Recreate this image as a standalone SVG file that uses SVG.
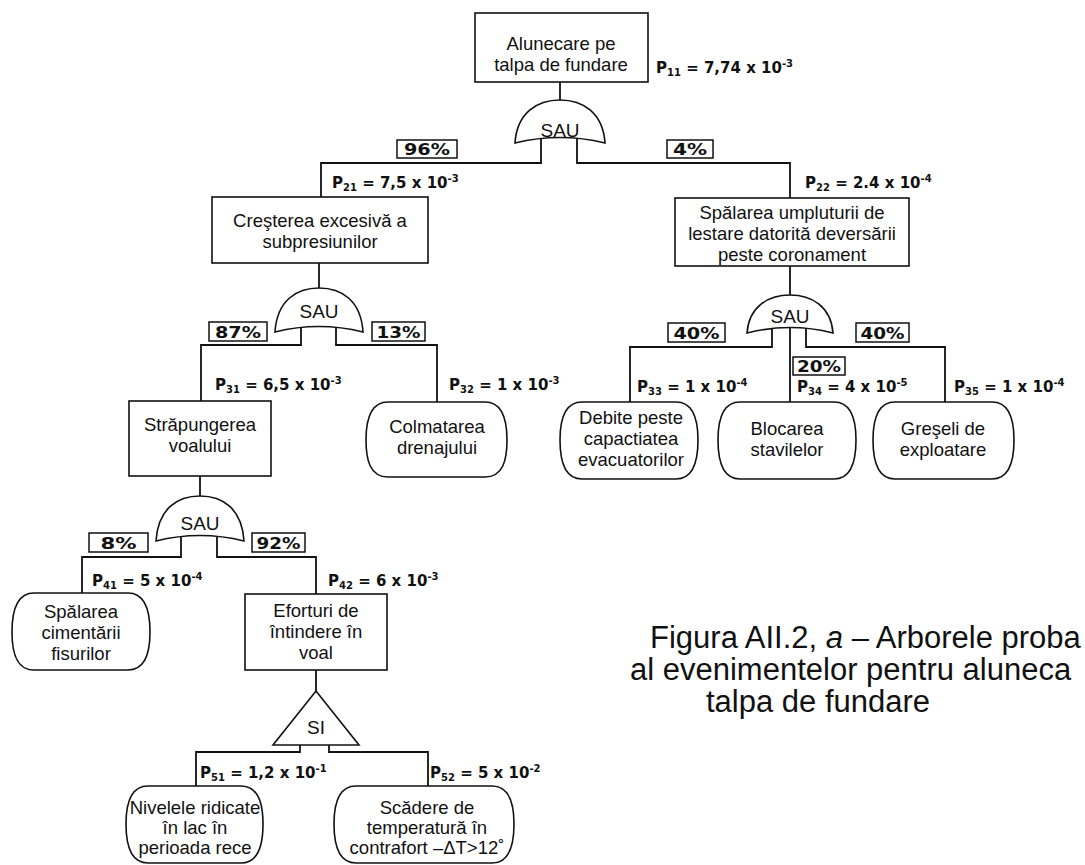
<svg xmlns="http://www.w3.org/2000/svg" width="1085" height="865" viewBox="0 0 1085 865">
  <style>
    .bx { fill: #fff; stroke: #111; stroke-width: 1.6; }
    .gate { fill: #fff; stroke: #111; stroke-width: 1.6; }
    .wire { fill: none; stroke: #111; stroke-width: 1.8; }
    .t { font-family: "Liberation Sans", Arial, sans-serif; font-size: 18.5px; fill: #111; text-anchor: middle; }
    .g { font-family: "Liberation Sans", Arial, sans-serif; font-size: 19px; fill: #111; text-anchor: middle; }
    .p { font-family: "DejaVu Sans", sans-serif; font-weight: bold; font-size: 15px; fill: #111; }
    .sb { font-size: 10px; }
    .sp { font-size: 10px; }
    .pc { font-family: "DejaVu Sans", sans-serif; font-weight: bold; font-size: 16px; fill: #111; text-anchor: middle; }
    .pb { fill: #fff; stroke: #111; stroke-width: 1.5; }
    .cap { font-family: "Liberation Sans", Arial, sans-serif; font-size: 31px; fill: #111; }
  </style>

  <rect width="1085" height="865" fill="#fff"/>

  <!-- connectors -->
  <g id="connectors">
    <path class="wire" d="M560,82 V101"/>
    <path class="wire" d="M541,136 V163 H321 V197"/>
    <path class="wire" d="M577,136 V163 H790 V198"/>

    <path class="wire" d="M319,263 V289"/>
    <path class="wire" d="M301,325 V345 H201 V401"/>
    <path class="wire" d="M336,325 V345 H437 V402"/>

    <path class="wire" d="M790,266 V296"/>
    <path class="wire" d="M772,328 V347 H630 V402"/>
    <path class="wire" d="M790,328 V402"/>
    <path class="wire" d="M806,328 V347 H945 V402"/>

    <path class="wire" d="M200,476 V496"/>
    <path class="wire" d="M181,534 V557 H82 V593"/>
    <path class="wire" d="M217,534 V557 H316 V594"/>

    <path class="wire" d="M316,670 V691"/>
    <path class="wire" d="M300,745 V752 H196 V786"/>
    <path class="wire" d="M329,745 V752 H428 V786"/>
  </g>

  <!-- top event -->
  <g id="n11">
    <rect class="bx" x="475" y="13" width="173" height="69"/>
    <text class="t" x="561" y="50">Alunecare pe</text>
    <text class="t" x="561" y="71">talpa de fundare</text>
  </g>

  <g id="or1">
    <path class="gate" d="M515,143 C517,112 538,100 560,100 C582,100 603,112 605,143 Q560,132 515,143 Z"/>
    <text class="g" x="560" y="137">SAU</text>
  </g>

  <g id="n21">
    <rect class="bx" x="212" y="197" width="216" height="66"/>
    <text class="t" x="320" y="227">Creşterea excesivă a</text>
    <text class="t" x="320" y="248">subpresiunilor</text>
  </g>

  <g id="n22">
    <rect class="bx" x="675" y="198" width="234" height="68"/>
    <text class="t" x="792" y="219">Spălarea umpluturii de</text>
    <text class="t" x="792" y="240">lestare datorită deversării</text>
    <text class="t" x="792" y="261">peste coronament</text>
  </g>

  <g id="or2">
    <path class="gate" d="M275,332 C277,300 297,288 319,288 C341,288 361,300 363,332 Q319,321 275,332 Z"/>
    <text class="g" x="319" y="318">SAU</text>
  </g>

  <g id="or4">
    <path class="gate" d="M747,333 C749,306 769,295 790,295 C811,295 831,306 833,333 Q790,322 747,333 Z"/>
    <text class="g" x="790" y="323">SAU</text>
  </g>

  <g id="n31">
    <rect class="bx" x="129" y="401" width="142" height="75"/>
    <text class="t" x="200" y="431">Străpungerea</text>
    <text class="t" x="200" y="452">voalului</text>
  </g>

  <g id="n32">
    <path class="bx" d="M388,402 H485 C503,402 507,420 507,440 C507,460 503,477 485,477 H388 C370,477 366,460 366,440 C366,420 370,402 388,402 Z"/>
    <text class="t" x="437" y="433">Colmatarea</text>
    <text class="t" x="437" y="454">drenajului</text>
  </g>

  <g id="n33">
    <path class="bx" d="M582,402 H676 C694,402 698,420 698,440 C698,460 694,479 676,479 H582 C564,479 560,460 560,440 C560,420 564,402 582,402 Z"/>
    <text class="t" x="631" y="424">Debite peste</text>
    <text class="t" x="631" y="445">capactiatea</text>
    <text class="t" x="631" y="466">evacuatorilor</text>
  </g>

  <g id="n34">
    <path class="bx" d="M740,402 H834 C852,402 856,420 856,440 C856,460 852,479 834,479 H740 C722,479 718,460 718,440 C718,420 722,402 740,402 Z"/>
    <text class="t" x="787" y="435">Blocarea</text>
    <text class="t" x="787" y="456">stavilelor</text>
  </g>

  <g id="n35">
    <path class="bx" d="M895,402 H992 C1010,402 1014,420 1014,440 C1014,460 1010,479 992,479 H895 C877,479 873,460 873,440 C873,420 877,402 895,402 Z"/>
    <text class="t" x="943" y="435">Greşeli de</text>
    <text class="t" x="943" y="456">exploatare</text>
  </g>

  <g id="or3">
    <path class="gate" d="M156,541 C158,508 178,496 200,496 C222,496 242,508 244,541 Q200,530 156,541 Z"/>
    <text class="g" x="200" y="530">SAU</text>
  </g>

  <g id="n41">
    <path class="bx" d="M34,593 H128 C146,593 150,612 150,632 C150,652 146,670 128,670 H34 C16,670 12,652 12,632 C12,612 16,593 34,593 Z"/>
    <text class="t" x="81" y="618">Spălarea</text>
    <text class="t" x="81" y="639">cimentării</text>
    <text class="t" x="81" y="660">fisurilor</text>
  </g>

  <g id="n42">
    <rect class="bx" x="245" y="594" width="142" height="76"/>
    <text class="t" x="316" y="617">Eforturi de</text>
    <text class="t" x="316" y="638">întindere în</text>
    <text class="t" x="316" y="659">voal</text>
  </g>

  <g id="and1">
    <path class="gate" d="M316,691 L359,745 L273,745 Z"/>
    <text class="g" x="316" y="734">SI</text>
  </g>

  <g id="n51">
    <path class="bx" d="M148,786 H241 C259,786 263,804 263,824 C263,844 259,863 241,863 H148 C130,863 126,844 126,824 C126,804 130,786 148,786 Z"/>
    <text class="t" x="195" y="814">Nivelele ridicate</text>
    <text class="t" x="195" y="834">în lac în</text>
    <text class="t" x="195" y="854">perioada rece</text>
  </g>

  <g id="n52">
    <path class="bx" d="M356,786 H492 C510,786 514,804 514,824 C514,844 510,863 492,863 H356 C338,863 334,844 334,824 C334,804 338,786 356,786 Z"/>
    <text class="t" x="427" y="814">Scădere de</text>
    <text class="t" x="427" y="834">temperatură în</text>
    <text class="t" x="427" y="854">contrafort –ΔT&gt;12˚</text>
  </g>

  <!-- branch weights -->
  <g id="weights">
    <rect class="pb" x="397" y="140" width="60" height="18"/>
    <text class="pc" x="427" y="155" textLength="46" lengthAdjust="spacingAndGlyphs">96%</text>
    <rect class="pb" x="667" y="140" width="46" height="18"/>
    <text class="pc" x="690" y="155" textLength="34" lengthAdjust="spacingAndGlyphs">4%</text>
    <rect class="pb" x="209" y="322" width="58" height="19"/>
    <text class="pc" x="238" y="338" textLength="46" lengthAdjust="spacingAndGlyphs">87%</text>
    <rect class="pb" x="372" y="322" width="53" height="19"/>
    <text class="pc" x="398.5" y="338" textLength="44" lengthAdjust="spacingAndGlyphs">13%</text>
    <rect class="pb" x="668" y="323" width="57" height="19"/>
    <text class="pc" x="696.5" y="339" textLength="46" lengthAdjust="spacingAndGlyphs">40%</text>
    <rect class="pb" x="856" y="323" width="53" height="19"/>
    <text class="pc" x="882.5" y="339" textLength="44" lengthAdjust="spacingAndGlyphs">40%</text>
    <rect class="pb" x="793" y="357" width="52" height="18"/>
    <text class="pc" x="819" y="372" textLength="44" lengthAdjust="spacingAndGlyphs">20%</text>
    <rect class="pb" x="89" y="533" width="59" height="19"/>
    <text class="pc" x="118.5" y="549" textLength="36" lengthAdjust="spacingAndGlyphs">8%</text>
    <rect class="pb" x="252" y="533" width="53" height="19"/>
    <text class="pc" x="278.5" y="549" textLength="44" lengthAdjust="spacingAndGlyphs">92%</text>
  </g>

  <!-- probabilities -->
  <g id="probabilities">
    <text class="p" x="656" y="73">P<tspan class="sb" dy="3">11</tspan><tspan dy="-3"> = 7,74 x 10</tspan><tspan class="sp" dy="-6">-3</tspan></text>
    <text class="p" x="332" y="188">P<tspan class="sb" dy="3">21</tspan><tspan dy="-3"> = 7,5 x 10</tspan><tspan class="sp" dy="-6">-3</tspan></text>
    <text class="p" x="805" y="188">P<tspan class="sb" dy="3">22</tspan><tspan dy="-3"> = 2.4 x 10</tspan><tspan class="sp" dy="-6">-4</tspan></text>
    <text class="p" x="215" y="390">P<tspan class="sb" dy="3">31</tspan><tspan dy="-3"> = 6,5 x 10</tspan><tspan class="sp" dy="-6">-3</tspan></text>
    <text class="p" x="449" y="390">P<tspan class="sb" dy="3">32</tspan><tspan dy="-3"> = 1 x 10</tspan><tspan class="sp" dy="-6">-3</tspan></text>
    <text class="p" x="637" y="392">P<tspan class="sb" dy="3">33</tspan><tspan dy="-3"> = 1 x 10</tspan><tspan class="sp" dy="-6">-4</tspan></text>
    <text class="p" x="797" y="392">P<tspan class="sb" dy="3">34</tspan><tspan dy="-3"> = 4 x 10</tspan><tspan class="sp" dy="-6">-5</tspan></text>
    <text class="p" x="954" y="392">P<tspan class="sb" dy="3">35</tspan><tspan dy="-3"> = 1 x 10</tspan><tspan class="sp" dy="-6">-4</tspan></text>
    <text class="p" x="92" y="586">P<tspan class="sb" dy="3">41</tspan><tspan dy="-3"> = 5 x 10</tspan><tspan class="sp" dy="-6">-4</tspan></text>
    <text class="p" x="328" y="586">P<tspan class="sb" dy="3">42</tspan><tspan dy="-3"> = 6 x 10</tspan><tspan class="sp" dy="-6">-3</tspan></text>
    <text class="p" x="200" y="778">P<tspan class="sb" dy="3">51</tspan><tspan dy="-3"> = 1,2 x 10</tspan><tspan class="sp" dy="-6">-1</tspan></text>
    <text class="p" x="430" y="778">P<tspan class="sb" dy="3">52</tspan><tspan dy="-3"> = 5 x 10</tspan><tspan class="sp" dy="-6">-2</tspan></text>
  </g>

  <!-- caption -->
  <g id="caption">
    <text class="cap" x="650" y="648">Figura AII.2, <tspan font-style="italic">a</tspan> – Arborele proba</text>
    <text class="cap" x="630" y="680">al evenimentelor pentru aluneca</text>
    <text class="cap" x="706" y="712">talpa de fundare</text>
  </g>
</svg>
